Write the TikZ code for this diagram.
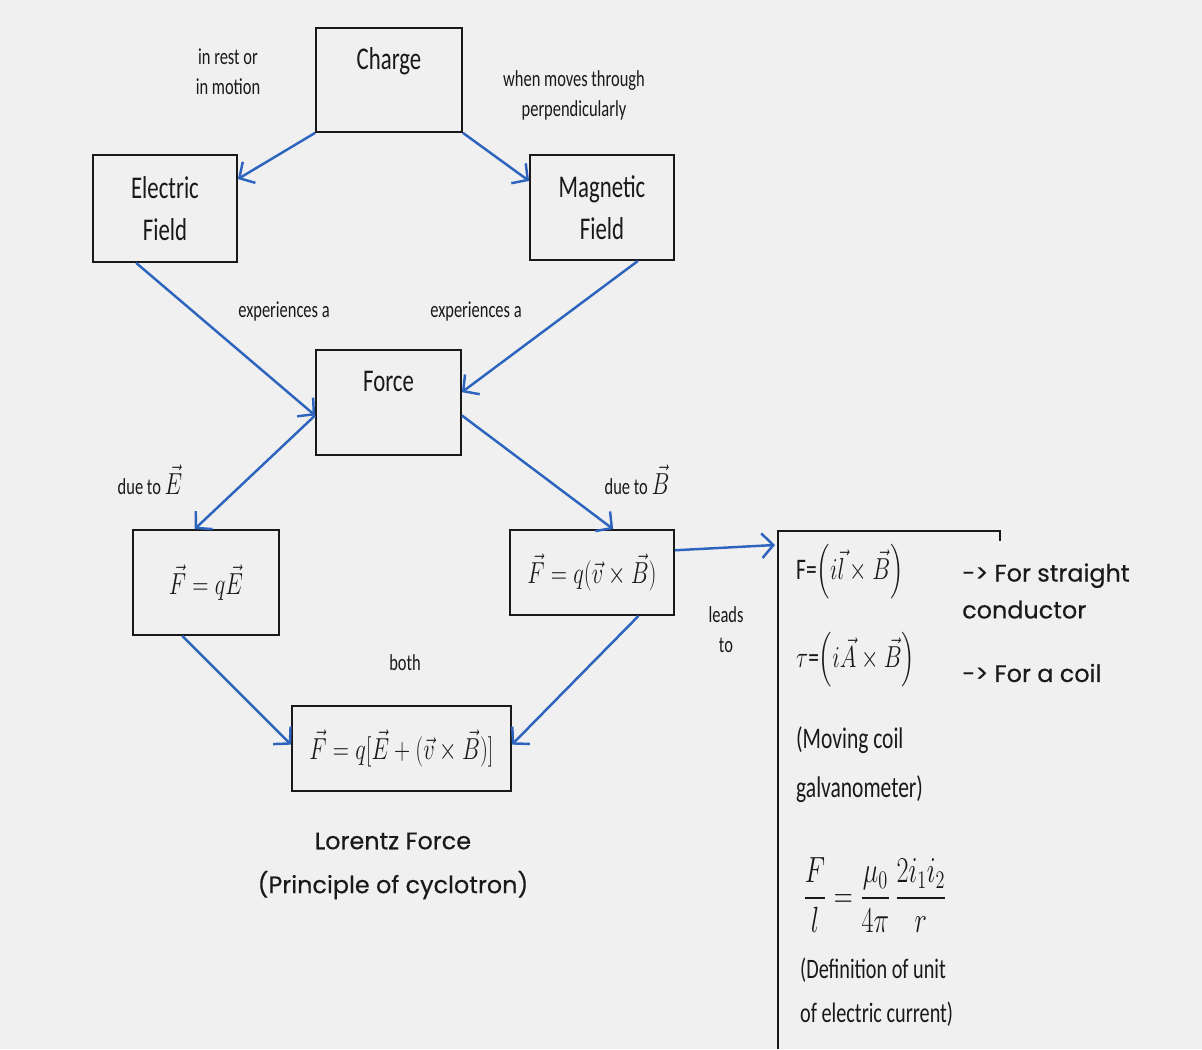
\documentclass[tikz,border=0pt]{standalone}
\usepackage{amsmath}
\usepackage{graphicx}
\usepackage{fontspec}
\setmainfont{Carlito}
\newfontfamily\narrowfont[FakeStretch=0.72]{Carlito}
\newfontfamily\popfont[FakeBold=0.4]{Poppins}
\usepackage{tikz}
\usetikzlibrary{arrows.meta, positioning, calc}
\definecolor{mgblue}{RGB}{45,100,190}
\definecolor{mgback}{RGB}{240,240,240}
\definecolor{mgdark}{RGB}{25,25,25}
\newcommand{\sqz}[1]{\scalebox{0.74}[1]{#1}}
\tikzset{
  box/.style={rectangle, draw=mgdark, fill=mgback, line width=1pt,
    align=center, inner sep=2pt, text=mgdark,
    font=\narrowfont\fontsize{18}{24}\selectfont},
  eqbox/.style={rectangle, draw=mgdark, fill=mgback, line width=1pt,
    inner sep=2pt, text=mgdark, font=\fontsize{17}{20}\selectfont},
  lbl/.style={align=center, text=mgdark,
    font=\narrowfont\fontsize{13}{17}\selectfont},
  sidetext/.style={align=left, anchor=west, text=mgdark,
    font=\narrowfont\fontsize{17}{28}\selectfont},
  poptext/.style={align=left, text=mgdark,
    font=\popfont\fontsize{13.6}{21}\selectfont},
  arrow/.style={-{Straight Barb[length=6.5pt,width=14pt]}, line width=1.4pt,
    color=mgblue}
}

\begin{document}
\begin{tikzpicture}
  % background and bounding box
  \fill[mgback] (0,0) rectangle (24.04,20.98);
  % boxes
  \node[box, minimum width=2.92cm, minimum height=2.08cm] (charge) at (7.78,19.38) {Charge\\~};
  \node[box, minimum width=2.88cm, minimum height=2.14cm] (elec) at (3.30,16.81) {Electric\\Field};
  \node[box, minimum width=2.88cm, minimum height=2.10cm] (magn) at (12.04,16.83) {Magnetic\\Field};
  \node[box, minimum width=2.90cm, minimum height=2.10cm] (force) at (7.77,12.93) {Force\\~};
  \node[eqbox, minimum width=2.92cm, minimum height=2.10cm] (fqe) at (4.12,9.33)
       {\sqz{$\vec F=q\vec E$}};
  \node[eqbox, minimum width=3.28cm, minimum height=1.70cm] (fqvb) at (11.84,9.53)
       {\sqz{$\vec F=q(\vec v\times\vec B)$}};
  \node[eqbox, minimum width=4.38cm, minimum height=1.70cm] (lorentz) at (8.03,6.01)
       {\sqz{$\vec F=q[\vec E+(\vec v\times\vec B)]$}};
  % open box on the right
  \coordinate (rtopl) at (15.56,10.36);
  \coordinate (rtopr) at (20.00,10.36);
  \coordinate (rbot) at (15.56,0);
  \coordinate (rin) at (15.50,10.08);
  \draw[mgdark, line width=1pt] (rbot) -- (rtopl) -- (rtopr) -- ++(0,-0.2);
  % connectors
  \draw[arrow] (charge.south west) -- (elec.22);
  \draw[arrow] (charge.south east) -- (magn.160);
  \draw[arrow] (elec.242) -- (force.190);
  \draw[arrow] (magn.-56) -- (force.8);
  \draw[arrow] (force.190) -- (fqe.102);
  \draw[arrow] (force.-10) -- (fqvb.64);
  \draw[arrow] (fqe.246) -- (lorentz.178);
  \draw[arrow] (fqvb.-43) -- (lorentz.2);
  \draw[arrow] (fqvb.15) -- (rin);
  % labels on the connectors
  \node[lbl] (rest) at (4.56,19.54) {in rest or\\in motion};
  \node[lbl] (moves) at (11.48,19.08) {when moves through\\perpendicularly};
  \node[lbl] (expe) at (5.68,14.76) {experiences a};
  \node[lbl] (expb) at (9.52,14.76) {experiences a};
  \node[lbl] (duee) at (3.00,11.38) {due to {\fontsize{18}{20}\selectfont\sqz{$\vec E$}}};
  \node[lbl] (dueb) at (12.74,11.38) {due to {\fontsize{18}{20}\selectfont\sqz{$\vec B$}}};
  \node[lbl] (both) at (8.10,7.72) {both};
  \node[lbl] (leads) at (14.52,8.38) {leads\\to};
  % lorentz force caption
  \node[poptext, align=center, font=\popfont\fontsize{13.6}{25}\selectfont] (lname) at (7.86,3.66)
       {Lorentz Force\\(Principle of cyclotron)};
  % right box contents
  \node[sidetext] (fil) at (15.80,9.54)
       {F=\sqz{$\left(i\vec{l}\times\vec B\right)$}};
  \node[sidetext] (tau) at (15.80,7.78)
       {\sqz{$\tau$}=\sqz{$\left(i\vec A\times\vec B\right)$}};
  \node[poptext, anchor=west] (straight) at (19.12,9.16) {-> For straight\\conductor};
  \node[poptext, anchor=west] (coil) at (19.12,7.52) {-> For a coil};
  \node[sidetext] (galvo) at (15.80,5.68) {(Moving coil\\galvanometer)};
  \node[font=\fontsize{20.74}{24}\selectfont, text=mgdark] (ampere) at (17.50,3.08)
       {\scalebox{0.72}[1]{$\dfrac{F}{l}=\dfrac{\mu_0}{4\pi}\,\dfrac{2i_1i_2}{r}$}};
  \node[sidetext, font=\narrowfont\fontsize{16}{25}\selectfont] (unit) at (15.88,1.14)
       {(Definition of unit\\of electric current)};
\end{tikzpicture}
\end{document}
